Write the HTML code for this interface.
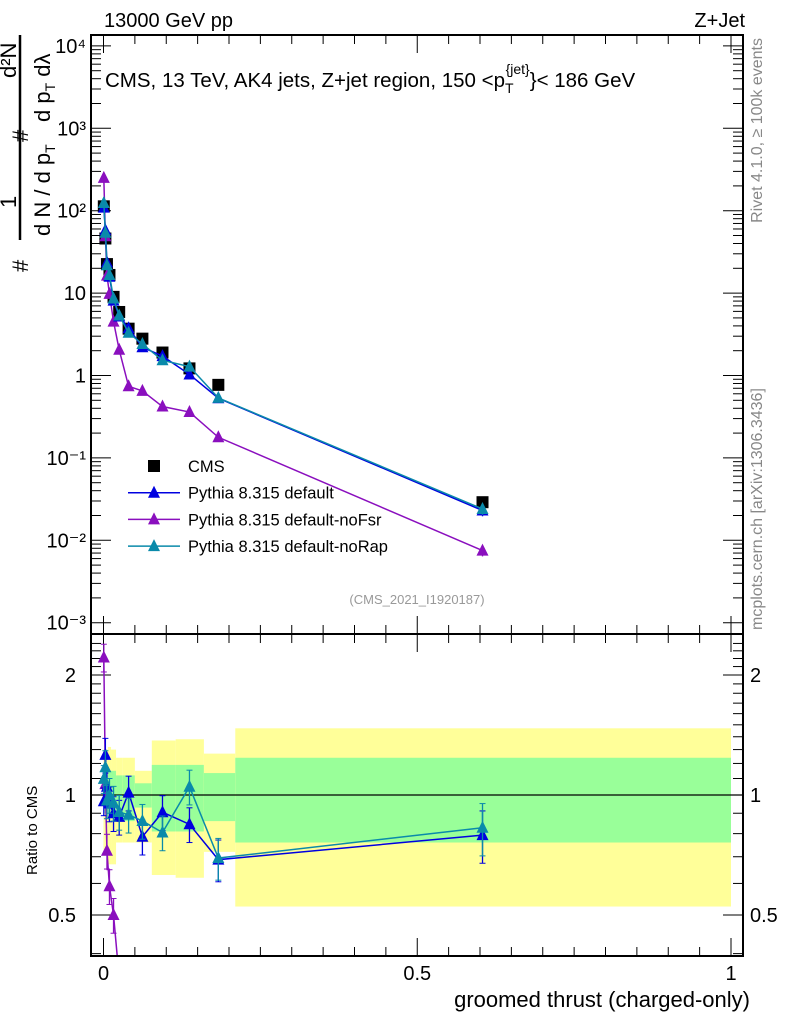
<!DOCTYPE html>
<html><head><meta charset="utf-8"><style>
html,body{margin:0;padding:0;background:#fff;overflow:hidden;width:786px;height:1024px;}
svg{display:block;font-family:"Liberation Sans",sans-serif;}
</style></head><body>
<svg id="c" width="786" height="1024" xmlns="http://www.w3.org/2000/svg">
<defs><clipPath id="rclip"><rect x="91" y="634" width="652" height="322"/></clipPath></defs>
<text x="104" y="27" font-size="20">13000 GeV pp</text>
<text x="745" y="27" font-size="20" text-anchor="end">Z+Jet</text>
<g id="bands"></g>
<g id="grid"></g>
<g id="marks"></g>
<g id="rmarks" clip-path="url(#rclip)"></g>
<rect x="91" y="35" width="652" height="599" fill="none" stroke="#000" stroke-width="2"/>
<rect x="91" y="634" width="652" height="322" fill="none" stroke="#000" stroke-width="2"/>
<text x="105" y="87" font-size="20.5">CMS, 13 TeV, AK4 jets, Z+jet region, 150 &lt;p<tspan font-size="14" dy="6">T</tspan><tspan font-size="14" dy="-19" dx="-8">{jet}</tspan><tspan dy="13">}&lt; 186 GeV</tspan></text>
<text x="417" y="604" font-size="13" fill="#999" text-anchor="middle">(CMS_2021_I1920187)</text>
<g transform="translate(762,38) rotate(-90)"><text x="0" y="0" font-size="16" fill="#888" text-anchor="end">Rivet 4.1.0, ≥ 100k events</text></g>
<g transform="translate(762,630) rotate(-90)"><text x="0" y="0" font-size="16" fill="#888">mcplots.cern.ch [arXiv:1306.3436]</text></g>
<g font-size="22">
<line x1="20" y1="35" x2="20" y2="240" stroke="#000" stroke-width="2.5"/>
<g transform="translate(16,208) rotate(-90)"><text x="0" y="0">1</text></g>
<g transform="translate(16,78) rotate(-90)"><text x="0" y="0">d²N</text></g>
<g transform="translate(28,272) rotate(-90)"><text x="0" y="0">#</text></g>
<g transform="translate(28,142) rotate(-90)"><text x="0" y="0">#</text></g>
<g transform="translate(50,236) rotate(-90)"><text x="0" y="0">d N / d p<tspan font-size="14" dy="5">T</tspan></text></g>
<g transform="translate(50,122) rotate(-90)"><text x="0" y="0">d p<tspan font-size="14" dy="5">T</tspan><tspan dy="-5"> dλ</tspan></text></g>
</g>
<g transform="translate(37,875) rotate(-90)"><text x="0" y="0" font-size="15">Ratio to CMS</text></g>
<text x="750" y="1007" font-size="22" text-anchor="end">groomed thrust (charged-only)</text>
<g id="legend"></g>
</svg>
<script>
const xs=[0.0005,0.003,0.0055,0.0095,0.016,0.025,0.040,0.062,0.094,0.137,0.183,0.604];
const edges=[0,0.002,0.004,0.007,0.012,0.02,0.03,0.05,0.077,0.115,0.16,0.21,1.0];
const cms=[113,46,22.5,16.6,9.0,5.9,3.7,2.8,1.9,1.22,0.77,0.029];
const pyDefault=[109,58,23.6,15.8,8.1,5.2,3.75,2.2,1.72,1.03,0.53,0.023];
const pyNoFsr=[250,49,16.3,9.8,4.5,2.05,0.74,0.65,0.42,0.36,0.178,0.0075];
const pyNoRap=[124,54,21.8,16.6,8.6,5.35,3.3,2.41,1.53,1.28,0.535,0.024];
const mcRelErr=[0.08,0.1,0.1,0.1,0.1,0.1,0.1,0.1,0.1,0.1,0.12,0.15];
const bandYellowHi=[1.3,1.3,1.3,1.32,1.3,1.24,1.24,1.15,1.37,1.38,1.27,1.47];
const bandYellowLo=[0.72,0.72,0.72,0.67,0.67,0.76,0.76,0.76,0.63,0.62,0.72,0.525];
const bandGreenHi=[1.12,1.12,1.12,1.15,1.15,1.12,1.12,1.07,1.19,1.19,1.135,1.24];
const bandGreenLo=[0.9,0.9,0.9,0.88,0.88,0.86,0.86,0.93,0.81,0.81,0.86,0.76];
const yMainTicks=[-3,-2,-1,0,1,2,3,4];
const yMainLabels=["10⁻³","10⁻²","10⁻¹","1","10","10²","10³","10⁴"];
const ratioTicks=[0.5,1,2];
const xTicks=[0,0.5,1];

const NS="http://www.w3.org/2000/svg";
const X=v=>103.5+v*627.5;
const Y=v=>375.5-82.4*Math.log10(v);
const R=v=>795-398.6*Math.log10(v);
function el(t,a,p){const e=document.createElementNS(NS,t);for(const k in a)e.setAttribute(k,a[k]);document.getElementById(p).appendChild(e);return e;}

for(let i=0;i<edges.length-1;i++){
 const x1=X(edges[i]),w=X(edges[i+1])-x1;
 let b=el('rect',{x:x1,y:R(bandYellowHi[i]),width:w,height:R(bandYellowLo[i])-R(bandYellowHi[i]),fill:'#ffff99'},'bands');
 
 
 let g=el('rect',{x:x1,y:R(bandGreenHi[i]),width:w,height:R(bandGreenLo[i])-R(bandGreenHi[i]),fill:'#99ff99'},'bands');
 
 
}
el('line',{x1:91,x2:743,y1:R(1),y2:R(1),stroke:'#000','stroke-width':1.2},'bands');

yMainTicks.forEach((p,i)=>{
 const y=Y(Math.pow(10,p));
 el('line',{x1:91,x2:111,y1:y,y2:y,stroke:'#000'},'grid');
 el('line',{x1:723,x2:743,y1:y,y2:y,stroke:'#000'},'grid');
 const t=el('text',{x:86,y:y+7,'font-size':20,'text-anchor':'end'},'grid');t.textContent=yMainLabels[i];
 
 
 for(let m=2;m<10;m++){const v=Math.pow(10,p)*m;const yy=Y(v);if(yy<36)continue;
  el('line',{x1:91,x2:101,y1:yy,y2:yy,stroke:'#000'},'grid');el('line',{x1:733,x2:743,y1:yy,y2:yy,stroke:'#000'},'grid');}
});
ratioTicks.forEach(v=>{const y=R(v);
 el('line',{x1:91,x2:111,y1:y,y2:y,stroke:'#000'},'grid');el('line',{x1:723,x2:743,y1:y,y2:y,stroke:'#000'},'grid');
 let t=el('text',{x:76,y:y+7,'font-size':20,'text-anchor':'end'},'grid');t.textContent=String(v);
 
 
 t=el('text',{x:750,y:y+7,'font-size':20},'grid');t.textContent=String(v);
});
for(let v=0.4;v<2.5;v+=0.1){const y=R(v);if(y<636||y>954)continue;
 el('line',{x1:91,x2:101,y1:y,y2:y,stroke:'#000'},'grid');el('line',{x1:733,x2:743,y1:y,y2:y,stroke:'#000'},'grid');}
for(let k=0;k<=20;k++){const v=k*0.05,x=X(v),L=(k%10==0)?18:9;
 [[35,35+L],[634-L,634],[634,634+L],[956-L,956]].forEach(a=>el('line',{x1:x,x2:x,y1:a[0],y2:a[1],stroke:'#000'},'grid'));}
xTicks.forEach(v=>{const t=el('text',{x:X(v),y:980,'font-size':20,'text-anchor':'middle'},'grid');t.textContent=String(v);
 
 });

function tri(x,y,c,p,name){const e=el('polygon',{points:`${x},${y-7} ${x-6},${y+5} ${x+6},${y+5}`,fill:c},p);
 
 }
function series(vals,c,name){
 let pts=xs.map((x,i)=>`${X(x)},${Y(vals[i])}`).join(' ');
 el('polyline',{points:pts,fill:'none',stroke:c,'stroke-width':1.5},'marks');
 xs.forEach((x,i)=>{const e=mcRelErr[i];
  el('line',{x1:X(x),x2:X(x),y1:Y(vals[i]*(1+e)),y2:Y(vals[i]*(1-e)),stroke:c,'stroke-width':1.3},'marks');
  tri(X(x),Y(vals[i]),c,'marks',name+'-point');});
 const rp=xs.map((x,i)=>`${X(x)},${R(vals[i]/cms[i])}`).join(' ');
 el('polyline',{points:rp,fill:'none',stroke:c,'stroke-width':1.5},'rmarks');
 xs.forEach((x,i)=>{const r=vals[i]/cms[i],e=mcRelErr[i];const y=R(r);
  el('line',{x1:X(x),x2:X(x),y1:R(r*(1+e)),y2:R(r*(1-e)),stroke:c,'stroke-width':1.3},'rmarks');
  el('line',{x1:X(x)-3,x2:X(x)+3,y1:R(r*(1+e)),y2:R(r*(1+e)),stroke:c},'rmarks');
  el('line',{x1:X(x)-3,x2:X(x)+3,y1:R(r*(1-e)),y2:R(r*(1-e)),stroke:c},'rmarks');
  tri(X(x),y,c,'rmarks',name+'-ratio-point');});
}
xs.forEach((x,i)=>{const r=el('rect',{x:X(x)-6,y:Y(cms[i])-6,width:12,height:12,fill:'#000'},'marks');
 
 });
series(pyNoFsr,'#8a0fbe','pythia-nofsr');
series(pyDefault,'#0000e0','pythia-default');
series(pyNoRap,'#0a8aaa','pythia-norap');

const leg=[['CMS','#000','sq'],['Pythia 8.315 default','#0000e0','t'],['Pythia 8.315 default-noFsr','#8a0fbe','t'],['Pythia 8.315 default-noRap','#0a8aaa','t']];
leg.forEach((l,i)=>{const y=466+i*26.7;
 if(l[2]=='sq'){el('rect',{x:148,y:y-6,width:12,height:12,fill:'#000'},'legend');}
 else{el('line',{x1:128,x2:180,y1:y,y2:y,stroke:l[1],'stroke-width':1.5},'legend');tri(154,y,l[1],'legend','legend-marker');}
 const t=el('text',{x:188,y:y+6,'font-size':16.5},'legend');t.textContent=l[0];
 
 });
</script>
</body></html>
